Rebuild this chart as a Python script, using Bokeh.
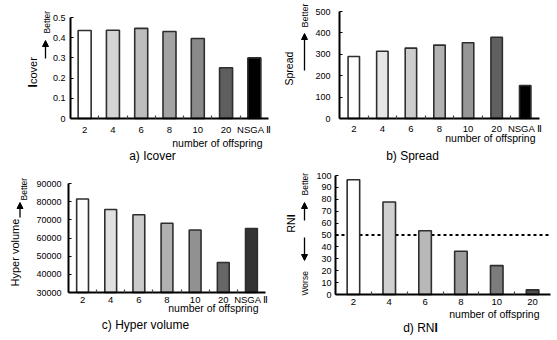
import math
from bokeh.plotting import figure
from bokeh.models import Range1d, FixedTicker, Label, Arrow, NormalHead
from bokeh.layouts import gridplot
from bokeh.embed import file_html
from bokeh.resources import INLINE

# ---------------- data ----------------
offspring = ["2", "4", "6", "8", "10", "20", "NSGA Ⅱ"]
rni_cats = ["2", "4", "6", "8", "10", "20"]

icover = [0.436, 0.437, 0.446, 0.431, 0.396, 0.251, 0.300]
spread = [290, 314, 329, 343, 354, 380, 154]
hypervolume = [81500, 75700, 72800, 68100, 64400, 46500, 65200]
rni = [96.4, 77.7, 53.6, 36.3, 24.3, 3.9]
rni_reference = 50

icover_ticks = [0, 0.1, 0.2, 0.3, 0.4, 0.5]
icover_tick_labels = ["0", "0.1", "0.2", "0.3", "0.4", "0.5"]
spread_ticks = [0, 100, 200, 300, 400, 500]
spread_tick_labels = ["0", "100", "200", "300", "400", "500"]
hv_ticks = [30000, 40000, 50000, 60000, 70000, 80000, 90000]
hv_tick_labels = ["30000", "40000", "50000", "60000", "70000", "80000", "90000"]
rni_ticks = [0, 10, 20, 30, 40, 50, 60, 70, 80, 90, 100]
rni_tick_labels = ["0", "10", "20", "30", "40", "50", "60", "70", "80", "90", "100"]

# ---------------- styles ----------------
FONT = "Liberation Sans"
col_a = ["#ffffff", "#d4d4d4", "#bdbdbd", "#a3a3a3", "#8a8a8a", "#5e5e5e", "#000000"]
col_b = ["#ffffff", "#e6e6e6", "#cccccc", "#b2b2b2", "#969696", "#606060", "#000000"]
col_c = ["#ffffff", "#e0e0e0", "#cbcbcb", "#b0b0b0", "#919191", "#666666", "#333333"]
col_d = ["#ffffff", "#d0d0d0", "#b8b8b8", "#9c9c9c", "#7c7c7c", "#4e4e4e"]


class Panel:
    pass


def panel(cats, vals, colors, ticks, tick_labels, W, H, L, T, R, B, ylo, yhi,
          bar_w, ystand, xstand):
    n = len(cats)
    xs = list(range(1, n + 1))
    # the plotting area spans the whole canvas; the axes are pinned inside it
    ux = (R - L) / n
    uy = (B - T) / (yhi - ylo)
    xr = Range1d(0.5 - L / ux, n + 0.5 + (W - R) / ux)
    yr = Range1d(ylo - (H - B) / uy, yhi + T / uy)
    p = figure(width=W, height=H, x_range=xr, y_range=yr, output_backend="svg",
               toolbar_location=None, min_border=0)
    p.outline_line_color = None
    p.xgrid.visible = False
    p.ygrid.visible = False
    p.background_fill_color = "white"
    p.border_fill_color = "white"
    p.vbar(x=xs, top=vals, bottom=ylo, width=bar_w, fill_color=colors,
           line_color="#2e2e2e", line_width=1.6)

    xa = p.xaxis[0]
    xa.fixed_location = ylo
    xa.bounds = (0.5, n + 0.5)
    xa.ticker = FixedTicker(ticks=xs, minor_ticks=[x + 0.5 for x in xs[:-1]])
    xa.major_label_overrides = {x: c for x, c in zip(xs, cats)}
    xa.major_tick_in = 0
    xa.major_tick_out = 0
    xa.minor_tick_in = 3
    xa.minor_tick_out = 0
    xa.minor_tick_line_width = 1.2
    xa.minor_tick_line_color = "#444444"
    xa.axis_line_width = 2
    xa.axis_line_color = "black"
    xa.major_label_text_font = FONT
    xa.major_label_text_font_size = "9.5px"
    xa.major_label_text_color = "black"
    xa.major_label_standoff = xstand

    ya = p.yaxis[0]
    ya.fixed_location = 0.5
    ya.bounds = (ylo, yhi)
    ya.ticker = FixedTicker(ticks=ticks, minor_ticks=[])
    ya.major_label_overrides = {t: s for t, s in zip(ticks, tick_labels)}
    ya.major_tick_in = 3
    ya.major_tick_out = 0
    ya.major_tick_line_width = 1.2
    ya.axis_line_width = 2
    ya.axis_line_color = "black"
    ya.major_label_text_font = FONT
    ya.major_label_text_font_size = "9px"
    ya.major_label_text_color = "black"
    ya.major_label_standoff = ystand

    pan = Panel()
    pan.p, pan.L, pan.base, pan.xs, pan.n = p, L, H - B, xs, n
    return pan


def lab(pan, x, y, text, size, angle=0.0, align="center", baseline="middle", bold=False):
    pan.p.add_layout(Label(x=pan.L + x, y=pan.base + y, x_units="screen", y_units="screen",
                           text=text, text_font=FONT, text_font_size=f"{size}px",
                           angle=angle, text_align=align, text_baseline=baseline,
                           text_font_style="bold" if bold else "normal",
                           text_color="black"))


def arrow(pan, x, y0, y1):
    pan.p.add_layout(Arrow(x_start=pan.L + x, y_start=pan.base + y0,
                           x_end=pan.L + x, y_end=pan.base + y1,
                           start_units="screen", end_units="screen",
                           line_width=1.3, line_color="black",
                           end=NormalHead(size=6, fill_color="black", line_color="black")))


UP = math.pi / 2

# a) Icover
pa = panel(offspring, icover, col_a, icover_ticks, icover_tick_labels,
           280, 170, 70, 17, 268, 118, 0, 0.5, 0.46, 5, 5)
lab(pa, -38, 31, "I", 12, UP, "left", bold=True)
lab(pa, -38, 34.5, "cover", 11, UP, "left")
lab(pa, -24, 85, "Better", 8.5, UP, "left")
arrow(pa, -25, 60, 78)
lab(pa, 192, -24, "number of offspring", 10.5, 0, "right")
lab(pa, 82, -37, "a) Icover", 12)

# b) Spread
pb = panel(offspring, spread, col_b, spread_ticks, spread_tick_labels,
           277, 170, 59, 11, 259, 118, 0, 500, 0.40, 9, 4)
lab(pb, -51, 33, "Spread", 10.5, UP, "left")
lab(pb, -35, 91, "Better", 9, UP, "left")
arrow(pb, -35, 48, 85)
lab(pb, 196, -19, "number of offspring", 10.5, 0, "right")
lab(pb, 73, -37, "b) Spread", 12)

# c) Hyper volume
pc = panel(offspring, hypervolume, col_c, hv_ticks, hv_tick_labels,
           280, 170, 68, 13, 265, 122, 30000, 90000, 0.42, 7, 1)
lab(pc, -54, 6, "Hyper volume", 11, UP, "left")
lab(pc, -44.5, 92, "Better", 8.5, UP, "left")
arrow(pc, -48.5, 75, 90)
lab(pc, 190, -15, "number of offspring", 10.5, 0, "right")
lab(pc, 77, -32, "c) Hyper volume", 12)

# d) RNI
pd_ = panel(rni_cats, rni, col_d, rni_ticks, rni_tick_labels,
            277, 170, 55, 5, 270, 124, 0, 100, 0.35, 4, 4)
# dashed 50 % reference line, drawn beneath the bars
pd_.p.segment(x0=[0.5], x1=[pd_.n + 0.5], y0=[rni_reference], y1=[rni_reference],
              line_color="black", line_width=2, line_dash="3 3", level="underlay")
lab(pd_, -45, 62, "RN", 10.5, UP, "left")
lab(pd_, -45, 77.2, "I", 10.5, UP, "left", bold=True)
lab(pd_, -31, 99, "Better", 8.5, UP, "left")
arrow(pd_, -31, 74, 92)
arrow(pd_, -31, 57, 34)
lab(pd_, -31, -1, "Worse", 8.5, UP, "left")
lab(pd_, 204, -19, "number of offspring", 10.5, 0, "right")
lab(pd_, 67.7, -33, "d) RN", 12, 0, "left")
lab(pd_, 99, -33, "I", 12, 0, "left", bold=True)

grid = gridplot([[pa.p, pb.p], [pc.p, pd_.p]], toolbar_location=None)
open("out.html", "w").write(file_html(grid, INLINE))
